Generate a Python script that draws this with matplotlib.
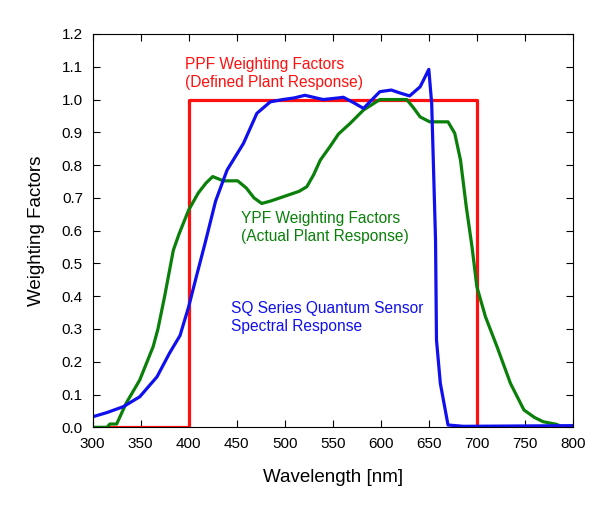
import matplotlib
matplotlib.use('Agg')
import matplotlib.pyplot as plt
from matplotlib.ticker import FormatStrFormatter

plt.rcParams['font.family'] = ['Liberation Sans', 'DejaVu Sans']

# PPF weighting (defined plant response)
ppf_x = [315, 400, 400, 700, 700, 800]
ppf_y = [0.0, 0.0, 1.0, 1.0, 0.0, 0.0]

# YPF weighting (actual plant response)
ypf_x = [300, 315, 318, 325, 335, 349, 363, 368, 375, 384, 390, 400, 410, 418, 425,
         436, 451, 460, 468, 476, 485, 500, 515, 523, 530, 537, 547, 556, 568, 582,
         599, 627, 634, 641, 651, 670, 677, 683, 689, 695, 700, 709, 721, 735, 749,
         760, 769, 783, 790, 800]
ypf_y = [0.0, 0.0, 0.01, 0.01, 0.074, 0.144, 0.246, 0.30, 0.40, 0.54, 0.59, 0.663, 0.715, 0.745, 0.765,
         0.752, 0.752, 0.73, 0.70, 0.683, 0.69, 0.705, 0.72, 0.734, 0.77, 0.815, 0.856, 0.895, 0.927, 0.968,
         1.0, 1.0, 0.975, 0.947, 0.932, 0.932, 0.897, 0.815, 0.673, 0.55, 0.429, 0.337, 0.246, 0.134, 0.053,
         0.03, 0.017, 0.009, 0.0, 0.0]

# SQ series quantum sensor spectral response
sq_x = [300, 315, 332, 349, 367, 380, 391, 400, 408, 417, 428, 440, 457, 471, 485,
        498, 510, 521, 540, 556, 561, 572, 582, 591, 599, 611, 620, 630, 641, 650,
        653, 657, 658, 662, 670, 686, 800]
sq_y = [0.032, 0.045, 0.063, 0.093, 0.154, 0.226, 0.28, 0.368, 0.46, 0.561, 0.69, 0.785, 0.866, 0.958, 0.993,
        1.0, 1.005, 1.013, 1.0, 1.005, 1.007, 0.99, 0.973, 1.0, 1.024, 1.029, 1.02, 1.011, 1.039, 1.092,
        0.988, 0.571, 0.266, 0.134, 0.007, 0.003, 0.005]

fig = plt.figure(figsize=(5.9, 5.23), dpi=100)
ax = fig.add_axes([0.157, 0.183, 0.814, 0.752])

ax.plot(ppf_x, ppf_y, color='#ff1010', lw=2.3)
ax.plot(ypf_x, ypf_y, color='#0a800a', lw=2.3)
ax.plot(sq_x, sq_y, color='#1010ee', lw=2.3)

ax.text(396, 1.079, 'PPF Weighting Factors\n(Defined Plant Response)', color='#ff1010',
        fontsize=11.2, va='center', linespacing=1.3)
ax.text(454, 0.61, 'YPF Weighting Factors\n(Actual Plant Response)', color='#0a800a',
        fontsize=11.2, va='center', linespacing=1.3)
ax.text(444, 0.335, 'SQ Series Quantum Sensor\nSpectral Response', color='#1010ee',
        fontsize=11.2, va='center', linespacing=1.3)

ax.set_xlim(300, 800)
ax.set_ylim(0, 1.2)
ax.set_xticks(range(300, 801, 50))
ax.set_yticks([i / 10 for i in range(13)])
ax.yaxis.set_major_formatter(FormatStrFormatter('%.1f'))
ax.tick_params(direction='in', top=True, right=True, labelsize=11, length=5, pad=7)
ax.set_xlabel('Wavelength [nm]', fontsize=13.5, labelpad=13)
ax.set_ylabel('Weighting Factors', fontsize=13.5, labelpad=12)

fig.savefig('out.png', dpi=100)
